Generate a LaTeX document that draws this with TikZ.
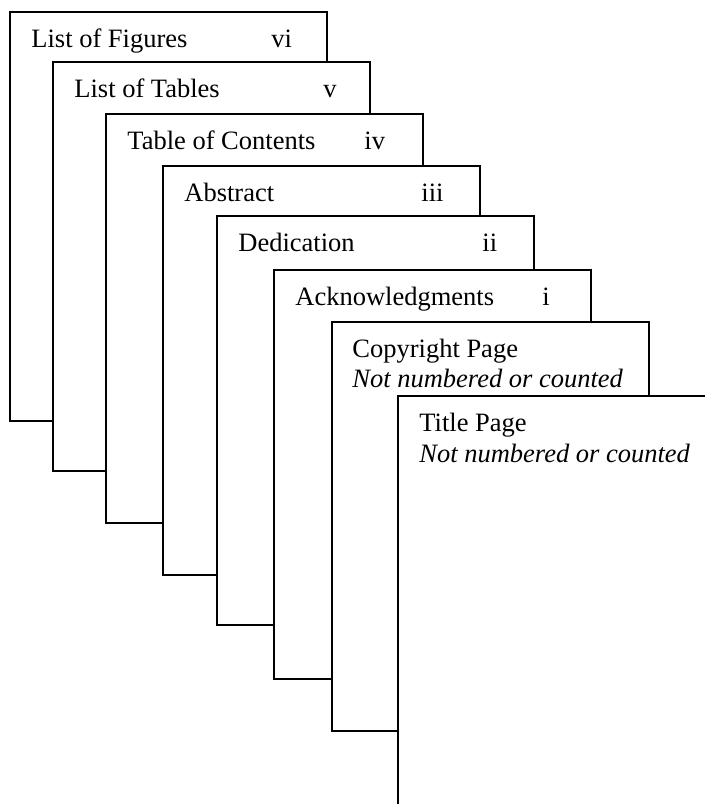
\documentclass[tikz,border=0pt]{standalone}
\usepackage{fontspec}
\setmainfont{Liberation Serif}
\usetikzlibrary{calc}
\tikzset{page/.style = {draw, line width=1pt, fill=white, minimum width=158.5pt, minimum height=204.5pt, anchor=north west, inner sep=0pt, outer sep=0pt}}
\tikzset{heading/.style = {anchor=base west, inner sep=0pt, font=\fontsize{13.25}{15.5}\selectfont}}

\begin{document}
\begin{tikzpicture}[x=0.5pt, y=-0.5pt]
\clip (0,0) rectangle (705,804);
\foreach \n/\x/\y/\t/\dx/\num in {lof/10/12/List of Figures/261/vi, lot/53/62/List of Tables/270/v, toc/106/114/Table of Contents/258/iv, abs/163/166/Abstract/258/iii, ded/217/216/Dedication/265/ii, ack/274/270/Acknowledgments/268/i}{
  \node [page] (\n) at (\x,\y) {};
  \node [heading] (\n-t) at ($(\n.north west)+(21,35)$) {\t};
  \node [heading] (\n-n) at ($(\n.north west)+(\dx,35)$) {\num};
}
\node [page] (copy) at (332,322) {};
\node [heading] (copy-t) at ($(copy.north west)+(20,35)$) {Copyright Page};
\node [heading] (copy-s) at ($(copy-t.base west)+(0,30)$) {\itshape Not numbered or counted};
\node [page] (title) at (398,396) {};
\node [heading] (title-t) at ($(title.north west)+(21,35)$) {Title Page};
\node [heading] (title-s) at ($(title-t.base west)+(0,31)$) {\itshape Not numbered or counted};
\end{tikzpicture}
\end{document}
